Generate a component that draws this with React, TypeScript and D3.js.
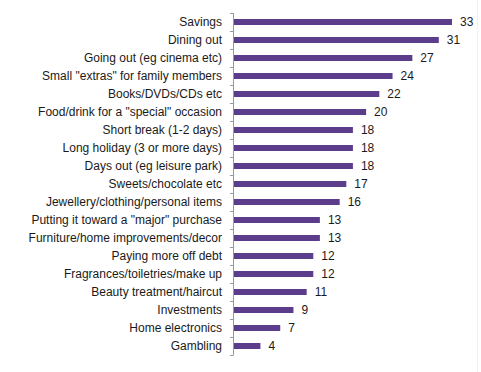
import React from 'react';
import * as d3 from 'd3';

const categories = [
  'Savings',
  'Dining out',
  'Going out (eg cinema etc)',
  'Small "extras" for family members',
  'Books/DVDs/CDs etc',
  'Food/drink for a "special" occasion',
  'Short break (1-2 days)',
  'Long holiday (3 or more days)',
  'Days out (eg leisure park)',
  'Sweets/chocolate etc',
  'Jewellery/clothing/personal items',
  'Putting it toward a "major" purchase',
  'Furniture/home improvements/decor',
  'Paying more off debt',
  'Fragrances/toiletries/make up',
  'Beauty treatment/haircut',
  'Investments',
  'Home electronics',
  'Gambling',
];
const values = [33, 31, 27, 24, 22, 20, 18, 18, 18, 17, 16, 13, 13, 12, 12, 11, 9, 7, 4];

const W = 481;
const H = 372;
const axisX = 233;

export default function App() {
  // band scale for the rows, linear for bar length
  const y = d3.scaleBand<string>().domain(categories).range([13, 355]).paddingInner(0);
  const x = d3.scaleLinear().domain([0, 33]).range([axisX + 1, 452]);
  const barH = 6;
  const ticks = categories.map((c) => y(c) as number).concat([y.range()[1]]);

  return (
    <svg
      width={W}
      height={H}
      style={{ position: 'absolute', left: 0, top: 0, background: '#fff' }}
      fontFamily="'Liberation Sans', Arial, sans-serif"
      fontSize={12}
    >
      <line x1={W - 3.5} x2={W - 3.5} y1={0} y2={H} stroke="#f2f2f2" />
      {categories.map((c, i) => {
        const cy = (y(c) as number) + y.bandwidth() / 2;
        return (
          <g key={c}>
            <rect x={x(0)} y={cy - barH / 2} width={x(values[i]) - x(0)} height={barH} fill="#5B3D8B" />
            <text x={222} y={cy} dy="0.35em" textAnchor="end" fill="#1a1a1a">
              {c}
            </text>
            <text x={x(values[i]) + 8} y={cy} dy="0.35em" fill="#1a1a1a">
              {values[i]}
            </text>
          </g>
        );
      })}
      <line x1={axisX + 0.5} x2={axisX + 0.5} y1={y.range()[0]} y2={y.range()[1]} stroke="#999" />
      {ticks.map((t, i) => (
        <line key={i} x1={axisX - 3} x2={axisX + 0.5} y1={t + 0.5} y2={t + 0.5} stroke="#999" />
      ))}
    </svg>
  );
}
